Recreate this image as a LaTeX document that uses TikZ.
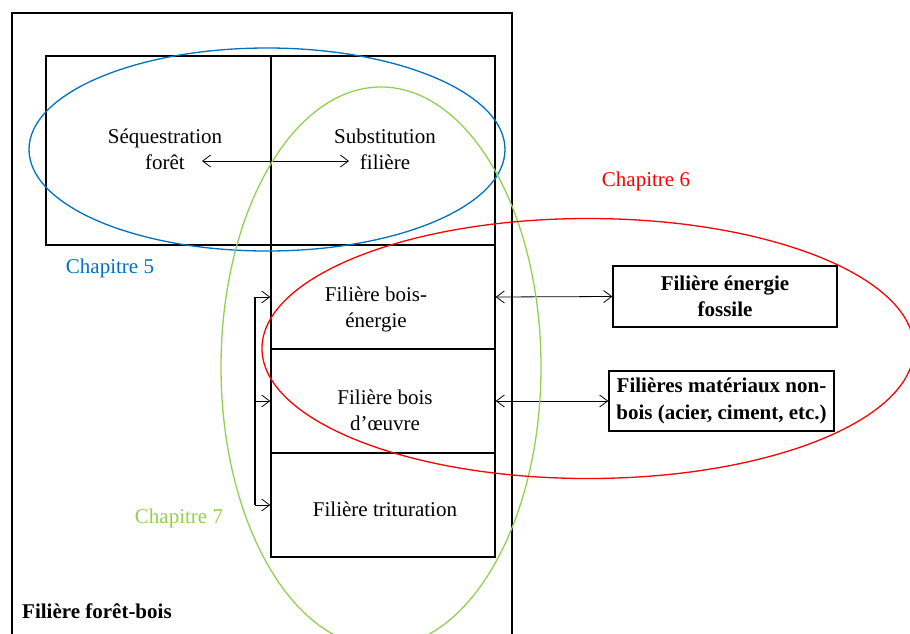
\documentclass[tikz,border=0pt]{standalone}
\usepackage{fontspec}
\setmainfont{Liberation Serif}
\usetikzlibrary{arrows.meta}
\definecolor{cblue}{RGB}{0,112,192}
\definecolor{cred}{RGB}{255,0,0}
\definecolor{cgreen}{RGB}{146,208,80}
\begin{document}
\begin{tikzpicture}[x=1pt,y=-1pt,
  font=\fontsize{21}{26.5}\selectfont,
  cell/.style={draw, line width=1.4pt, inner sep=0pt, minimum width=224pt},
  txt/.style={align=center, inner sep=0pt},
  sidebox/.style={draw, line width=1.4pt, inner sep=0pt, align=center, font=\fontsize{21}{26.5}\selectfont\bfseries},
  barb/.style={line width=0.8pt, -{Straight Barb[length=8pt,width=12pt]}},
  dbarb/.style={line width=0.8pt, {Straight Barb[length=8pt,width=12pt]}-{Straight Barb[length=8pt,width=12pt]}},
  ring/.style={line width=1.3pt}]
\useasboundingbox (0,0) rectangle (910,633);
\clip (0,0) rectangle (910,633);

% outer frame (open at the bottom, cut by the page)
\draw[line width=1.4pt] (12,650) -- (12,13) -- (512,13) -- (512,650);

% top cells
\node[cell, minimum width=225pt, minimum height=189pt] (seq) at (158.5,150.5) {};
\node[cell, minimum height=189pt] (sub) at (383,150.5) {};
\node[txt] (seqt) at (165,149.5) {Séquestration\\forêt};
\node[txt] (subt) at (385,149.5) {Substitution\\filière};
\coordinate (a1) at (202,161);
\coordinate (a2) at (349,161);
\draw[dbarb] (a1) -- (a2);

% column cells
\node[cell, minimum height=104pt] (be) at (383,297) {};
\node[cell, minimum height=104pt] (bo) at (383,401) {};
\node[cell, minimum height=104pt] (tr) at (383,505) {};
\node[txt] (bet) at (376,309.5) {Filière bois-\\énergie};
\node[txt] (bot) at (385,410.5) {Filière bois\\d’œuvre};
\node[txt] (trt) at (385,509) {Filière trituration};

% bracket on the left of the column
\coordinate (br) at (255,0);
\draw[line width=1.1pt] (be.west -| br) -- (tr.west -| br);
\draw[barb] (be.west -| br) -- (be.west);
\draw[barb] (bo.west -| br) -- (bo.west);
\draw[barb] (tr.west -| br) -- (tr.west);

% side boxes
\node[sidebox, minimum width=224pt, minimum height=61pt] (fos) at (725,296.5) {Filière énergie\\fossile};
\node[sidebox, minimum width=225pt, minimum height=60pt] (mat) at (721.5,401) {Filières matériaux non-\\bois (acier, ciment, etc.)};
\draw[dbarb] (be.east) -- (fos.west);
\draw[dbarb] (bo.east) -- (mat.west);

% chapter ellipses
\draw[ring, cblue] (267,149.5) ellipse [x radius=238, y radius=101.5];
\draw[ring, cgreen] (381,367) ellipse [x radius=160, y radius=280];
\draw[ring, cred] (588,348.5) ellipse [x radius=326, y radius=130];

% labels
\node[txt, text=cblue] (c5) at (110,268) {Chapitre 5};
\node[txt, text=cred] (c6) at (646,181) {Chapitre 6};
\node[txt, text=cgreen] (c7) at (179,518) {Chapitre 7};
\node[txt, anchor=west, font=\fontsize{21}{26.5}\selectfont\bfseries] (ffb) at (22,611) {Filière forêt-bois};
\end{tikzpicture}
\end{document}
